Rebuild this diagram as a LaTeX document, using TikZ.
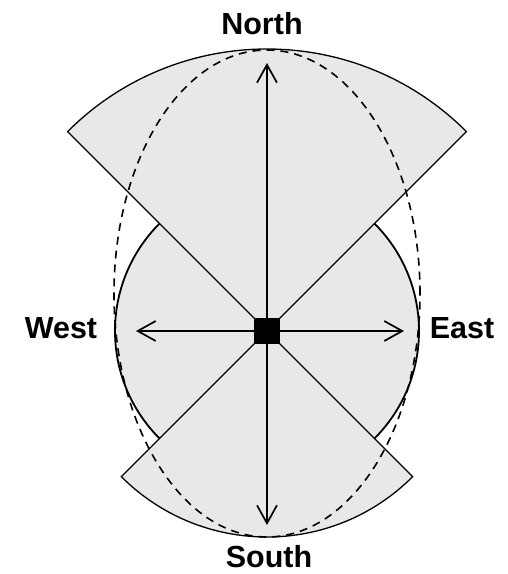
\documentclass[tikz,border=0pt]{standalone}
\usepackage{fontspec}
\setmainfont{Liberation Sans}
\usetikzlibrary{arrows.meta}
\definecolor{fillgray}{RGB}{232,232,232}
\tikzset{
  zone/.style={fill=fillgray,draw=black,line width=1.3pt,line join=miter},
  ring/.style={fill=fillgray,draw=black,line width=1.8pt},
  guess/.style={draw=black,line width=1.6pt,dash pattern=on 8pt off 6pt},
  dirarrow/.style={draw=black,line width=1.7pt,-{Straight Barb[length=18pt,width=20pt,line width=1.7pt]}},
  label/.style={font=\fontsize{30.5}{36}\selectfont\bfseries,anchor=base,inner sep=0pt},
  robot/.style={fill=black,inner sep=0pt,minimum size=26pt}
}
\begin{document}
\begin{tikzpicture}[x=1pt,y=1pt]
\useasboundingbox (-267,-243) rectangle (241,331);
% circle
\draw[ring] (0,0) circle (152);
% north sector
\draw[zone] (0,0) -- (135:282) arc (135:45:282) -- cycle;
% south sector
\draw[zone] (0,0) -- (-135:206) arc (-135:-45:206) -- cycle;
% dashed ellipse
\draw[guess] (0,37.5) ellipse [x radius=153, y radius=243.5];
% center
\node[robot] (c) at (0,0) {};
\coordinate (n) at (0,268);
\coordinate (s) at (0,-194);
\coordinate (w) at (-131,0);
\coordinate (e) at (137,0);
\draw[dirarrow] (c) -- (n);
\draw[dirarrow] (c) -- (s);
\draw[dirarrow] (c) -- (w);
\draw[dirarrow] (c) -- (e);
% labels
\node[label] (ln) at (-5,296) {North};
\node[label] (ls) at (2,-236) {South};
\node[label] (lw) at (-206,-7) {West};
\node[label] (le) at (195,-7) {East};
\end{tikzpicture}
\end{document}
